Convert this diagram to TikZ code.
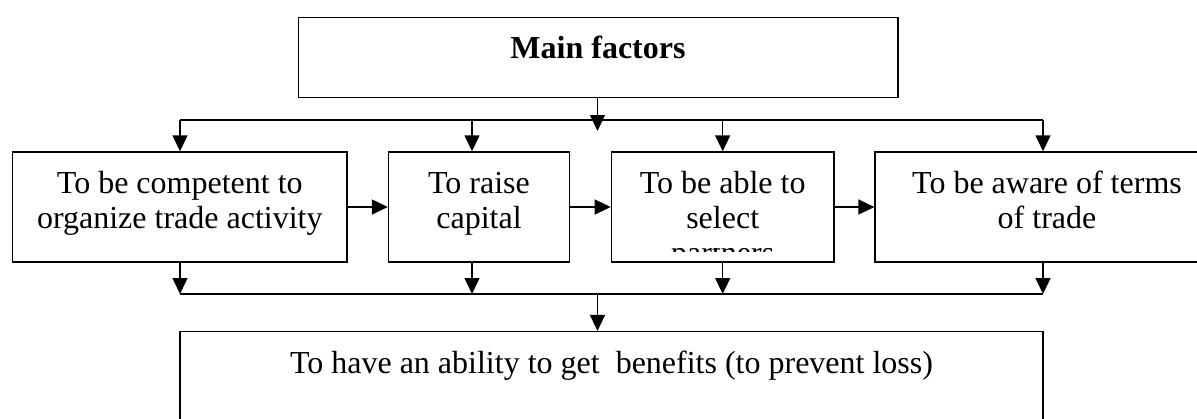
\documentclass[tikz,border=0pt]{standalone}
\usepackage{fontspec}
\setmainfont{Liberation Serif}
\usetikzlibrary{arrows.meta}
\begin{document}
\begin{tikzpicture}[x=1pt,y=-1pt,
  box/.style={draw=black, line width=1.4pt, rectangle, inner sep=0pt, fill=white},
  txt/.style={anchor=base, inner sep=0pt, font=\fontsize{32}{35}\selectfont},
  btxt/.style={anchor=base, inner sep=0pt, font=\fontsize{32}{35}\selectfont\bfseries},
  arr/.style={line width=1.4pt, -{Triangle[length=16pt,width=15pt]}},
  ln/.style={line width=1.4pt}]
\clip (0,0) rectangle (1197,418);
\fill[white] (0,0) rectangle (1197,418);
% boxes
\node[box, minimum width=599.5pt, minimum height=80.2pt] (top) at (598.25,57.4) {};
\node[box, minimum width=334.4pt, minimum height=110pt] (b1) at (179.8,207) {};
\node[box, minimum width=181pt, minimum height=110pt] (b2) at (479,207) {};
\node[box, minimum width=222.6pt, minimum height=110pt] (b3) at (722.7,207) {};
\node[box, minimum width=343.7pt, minimum height=110pt] (b4) at (1047,207) {};
\node[box, minimum width=863pt, minimum height=128pt] (bot) at (611.5,395.6) {};
% texts
\node[btxt] (tmain) at (598,58.3) {Main factors};
\node[txt] (t1a) at (179.8,193) {To be competent to};
\node[txt] (t1b) at (179.8,228) {organize trade activity};
\node[txt] (t2a) at (479,193) {To raise};
\node[txt] (t2b) at (479,228) {capital};
\node[txt] (t3a) at (722.7,193) {To be able to};
\node[txt] (t3b) at (722.7,228) {select};
\begin{scope}
  \clip (612,248.5) rectangle (833,251.5);
  \node[txt] (t3c) at (722.7,263) {partners};
\end{scope}
\node[txt] (t4a) at (1047,193) {To be aware of terms};
\node[txt] (t4b) at (1047,228) {of trade};
\node[txt] (tbot) at (611.5,373) {To have an ability to get\ \ benefits (to prevent loss)};
% top distribution
\coordinate (c1) at (180,120);
\coordinate (c2) at (472,120);
\coordinate (c3) at (722.7,120);
\coordinate (c4) at (1043,120);
\coordinate (ctip) at (597.5,131);
\draw[arr] (top.south -| ctip) -- (ctip);
\draw[ln] (c1) -- (c4);
\draw[arr] (c1) -- (c1 |- b1.north);
\draw[arr] (c2) -- (c2 |- b2.north);
\draw[arr] (c3) -- (c3 |- b3.north);
\draw[arr] (c4) -- (c4 |- b4.north);
% horizontal arrows
\draw[arr] (b1.east) -- (b2.west);
\draw[arr] (b2.east) -- (b3.west);
\draw[arr] (b3.east) -- (b4.west);
% bottom collection
\coordinate (d1) at (180,294);
\coordinate (d2) at (472,294);
\coordinate (d3) at (722.7,294);
\coordinate (d4) at (1043,294);
\coordinate (dm) at (597.5,294);
\draw[arr] (b1.south -| d1) -- (d1);
\draw[arr] (b2.south -| d2) -- (d2);
\draw[arr] (b3.south -| d3) -- (d3);
\draw[arr] (b4.south -| d4) -- (d4);
\draw[ln] (d1) -- (d4);
\draw[arr] (dm) -- (dm |- bot.north);
\end{tikzpicture}
\end{document}
